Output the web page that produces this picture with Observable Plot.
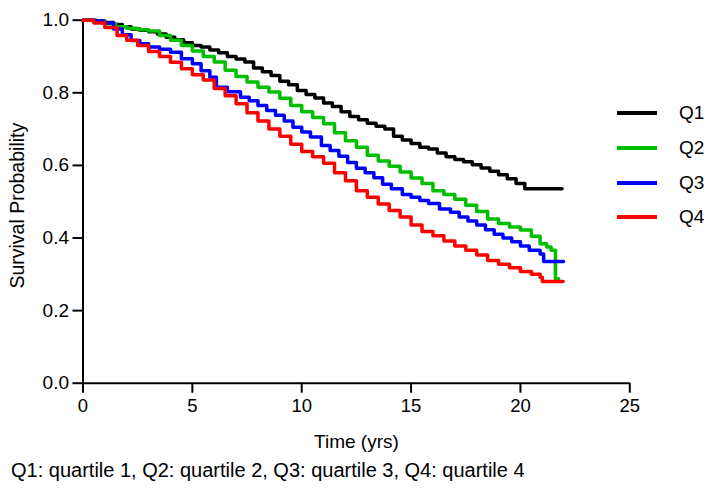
<!DOCTYPE html>
<html><head><meta charset="utf-8">
<script src="https://cdn.jsdelivr.net/npm/d3@7"></script>
<script src="https://cdn.jsdelivr.net/npm/@observablehq/plot@0.6"></script>
<style>
body{margin:0;background:#fff;font-family:"Liberation Sans",Arial,sans-serif;}
#wrap{position:relative;width:714px;height:501px;overflow:hidden;background:#fff;}
#chart{position:absolute;left:0;top:0;}
.legline{position:absolute;width:40px;height:4px;}
.legtext{position:absolute;font-size:19px;line-height:19px;color:#000;}
#caption{position:absolute;left:11px;font-size:20px;line-height:20px;color:#000;white-space:nowrap;}
</style></head><body><div id="wrap"><div id="chart"></div></div>
<script>
const groups = ["Q1", "Q2", "Q3", "Q4"];
const colors = ["#000000", "#00bf00", "#0000ff", "#ff0000"];

const q1Time = [0, 0.6, 1.0, 1.4, 1.8, 2.2, 2.6, 3.0, 3.4, 3.8, 4.2, 4.6, 5.0, 5.4, 5.8, 6.2, 6.6, 7.0, 7.4, 7.8, 8.2, 8.6, 9.0, 9.4, 9.8, 10.2, 10.6, 11.0, 11.4, 11.8, 12.2, 12.6, 13.0, 13.4, 13.8, 14.2, 14.6, 15.0, 15.4, 15.8, 16.2, 16.6, 17.0, 17.4, 17.8, 18.2, 18.6, 19.0, 19.4, 19.8, 20.2, 21.9];
const q1Surv = [1.0, 0.998, 0.994, 0.988, 0.982, 0.976, 0.972, 0.968, 0.962, 0.953, 0.946, 0.938, 0.930, 0.926, 0.918, 0.910, 0.900, 0.893, 0.885, 0.868, 0.858, 0.848, 0.832, 0.822, 0.806, 0.795, 0.786, 0.772, 0.762, 0.748, 0.735, 0.726, 0.716, 0.708, 0.700, 0.680, 0.670, 0.660, 0.650, 0.645, 0.634, 0.624, 0.616, 0.610, 0.602, 0.593, 0.584, 0.574, 0.563, 0.550, 0.536, 0.536];

const q2Time = [0, 0.5, 1.0, 1.5, 2.0, 2.5, 3.0, 3.5, 4.0, 4.5, 5.0, 5.5, 6.0, 6.5, 7.0, 7.5, 8.0, 8.5, 9.0, 9.5, 10.0, 10.5, 11.0, 11.5, 12.0, 12.5, 13.0, 13.5, 14.0, 14.5, 15.0, 15.5, 16.0, 16.5, 17.0, 17.5, 18.0, 18.5, 19.0, 19.5, 20.0, 20.5, 20.9, 21.2, 21.4, 21.6, 21.75];
const q2Surv = [1.0, 0.995, 0.99, 0.982, 0.978, 0.974, 0.970, 0.958, 0.945, 0.930, 0.915, 0.900, 0.885, 0.862, 0.845, 0.830, 0.815, 0.802, 0.785, 0.765, 0.748, 0.732, 0.715, 0.690, 0.668, 0.650, 0.628, 0.612, 0.598, 0.582, 0.565, 0.550, 0.530, 0.520, 0.507, 0.490, 0.473, 0.452, 0.440, 0.430, 0.422, 0.405, 0.384, 0.375, 0.366, 0.288, 0.288];

const q3Time = [0, 0.5, 0.9, 1.4, 1.8, 2.2, 2.6, 3.0, 3.5, 4.0, 4.5, 5.0, 5.4, 5.8, 6.1, 6.6, 7.2, 7.6, 8.0, 8.4, 8.8, 9.2, 9.6, 10.0, 10.4, 10.9, 11.3, 11.7, 12.1, 12.5, 12.9, 13.3, 13.7, 14.1, 14.6, 15.0, 15.4, 15.8, 16.3, 16.8, 17.2, 17.6, 18.0, 18.4, 18.8, 19.2, 19.6, 20.0, 20.4, 20.9, 21.06, 21.97];
const q3Surv = [1.0, 0.998, 0.992, 0.976, 0.960, 0.944, 0.935, 0.926, 0.920, 0.912, 0.894, 0.880, 0.861, 0.843, 0.815, 0.803, 0.788, 0.778, 0.765, 0.751, 0.738, 0.722, 0.705, 0.692, 0.678, 0.655, 0.641, 0.625, 0.608, 0.592, 0.580, 0.566, 0.548, 0.536, 0.520, 0.512, 0.503, 0.495, 0.480, 0.471, 0.458, 0.447, 0.436, 0.423, 0.410, 0.400, 0.390, 0.378, 0.366, 0.356, 0.335, 0.335];

const q4Time = [0, 0.5, 1.0, 1.56, 2.0, 2.5, 3.0, 3.5, 4.0, 4.5, 5.0, 5.5, 6.0, 6.5, 7.0, 7.5, 8.0, 8.5, 9.0, 9.5, 10.0, 10.5, 11.0, 11.5, 12.0, 12.5, 13.0, 13.5, 14.0, 14.5, 15.0, 15.5, 16.0, 16.5, 17.0, 17.5, 18.0, 18.5, 19.0, 19.5, 20.0, 20.5, 20.9, 21.0, 21.95];
const q4Surv = [1.0, 0.992, 0.98, 0.958, 0.945, 0.930, 0.914, 0.900, 0.884, 0.866, 0.850, 0.835, 0.812, 0.792, 0.770, 0.745, 0.722, 0.700, 0.680, 0.658, 0.638, 0.624, 0.606, 0.580, 0.558, 0.530, 0.512, 0.494, 0.476, 0.458, 0.436, 0.418, 0.406, 0.392, 0.378, 0.366, 0.353, 0.338, 0.328, 0.318, 0.308, 0.300, 0.292, 0.280, 0.280];

const xTicks = [0, 5, 10, 15, 20, 25];
const yTicks = [0, 0.2, 0.4, 0.6, 0.8, 1.0];
const xTitle = "Time (yrs)";
const yTitle = "Survival Probability";
const caption = "Q1: quartile 1, Q2: quartile 2, Q3: quartile 3, Q4: quartile 4";

const series = [[q1Time, q1Surv], [q2Time, q2Surv], [q3Time, q3Surv], [q4Time, q4Surv]];
const rows = [];
series.forEach(([t, s], i) => t.forEach((x, j) => rows.push({group: groups[i], time: x, surv: s[j]})));

const font = "Liberation Sans, Arial, sans-serif";
const chart = Plot.plot({
  width: 714, height: 455,
  marginLeft: 82.5, marginRight: 84.7, marginTop: 19.7, marginBottom: 72.3,
  style: {fontFamily: font, fontSize: "18px", color: "#000", background: "#fff", overflow: "visible"},
  x: {domain: [0, 25]},
  y: {domain: [0, 1]},
  color: {domain: groups, range: colors},
  marks: [
    Plot.axisX({ticks: xTicks, tickSize: 10, tickPadding: 6, strokeWidth: 2, stroke: "#000", fill: "#000", fontSize: 18.5, tickFormat: d => String(d), label: null}),
    Plot.axisY({ticks: yTicks, tickSize: 10, tickPadding: 4, strokeWidth: 2, stroke: "#000", fill: "#000", fontSize: 19, tickFormat: d => d.toFixed(1), label: null}),
    Plot.ruleY([0], {stroke: "#000", strokeWidth: 2}),
    Plot.ruleX([0], {stroke: "#000", strokeWidth: 2}),
    Plot.line(rows, {x: "time", y: "surv", z: "group", stroke: "group", strokeWidth: 3.5, curve: "step-after"}),
    Plot.text([xTitle], {frameAnchor: "bottom", lineAnchor: "middle", dy: 59, fontSize: 19, fill: "#000"}),
    Plot.text([yTitle], {frameAnchor: "left", textAnchor: "middle", lineAnchor: "middle", rotate: -90, dx: -65, dy: 4, fontSize: 19.5, fill: "#000"})
  ]
});
document.getElementById("chart").appendChild(chart);

const wrap = document.getElementById("wrap");
const legY = [113.3, 148.3, 182.7, 217.3];
groups.forEach((g, i) => {
  const ln = document.createElement("div");
  ln.className = "legline";
  ln.style.left = "617px";
  ln.style.top = (legY[i] - 2) + "px";
  ln.style.background = colors[i];
  wrap.appendChild(ln);
  const tx = document.createElement("div");
  tx.className = "legtext";
  tx.style.left = "679px";
  tx.style.top = (legY[i] - 10) + "px";
  tx.textContent = g;
  wrap.appendChild(tx);
});
const cap = document.createElement("div");
cap.id = "caption";
cap.style.top = "460px";
cap.textContent = caption;
wrap.appendChild(cap);
</script>
</body></html>
